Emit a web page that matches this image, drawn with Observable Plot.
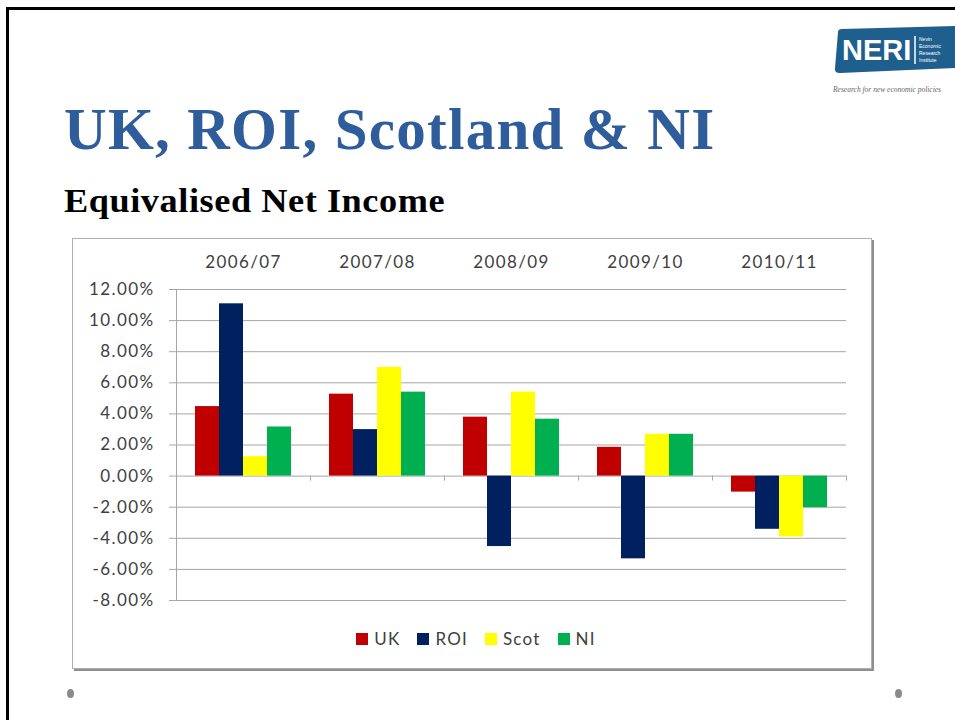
<!DOCTYPE html>
<html>
<head>
<meta charset="utf-8">
<script src="https://cdn.jsdelivr.net/npm/d3@7"></script>
<script src="https://cdn.jsdelivr.net/npm/@observablehq/plot@0.6"></script>
<style>
  html, body { margin: 0; padding: 0; background: #fff; }
  #page { position: relative; width: 955px; height: 720px; overflow: hidden; background: #fff; }
  .abs { position: absolute; }
  #title { left: 64px; top: 95px; font-family: "Liberation Serif", serif; font-weight: bold; font-size: 59px; color: #2F5C9B; white-space: nowrap; letter-spacing: 1.3px; }
  #subtitle { left: 64px; top: 183px; font-family: "Liberation Serif", serif; font-weight: bold; font-size: 33px; color: #000; white-space: nowrap; letter-spacing: 0.5px; transform: scaleX(1.10); transform-origin: left top; }
  #box { left: 72px; top: 238px; width: 798px; height: 429px; border: 1px solid #B0B0B0; box-shadow: 2px 2px 0 #8F8F8F; }
  #chart { left: 73px; top: 240px; }
  #legend { left: 72px; top: 628px; width: 808px; display: flex; justify-content: center; gap: 17px; font-family: Lato, "Open Sans", sans-serif; font-size: 17px; letter-spacing: 1.2px; color: #404040; }
  #legend .item { display: flex; align-items: center; gap: 6px; }
  #legend .sw { width: 12px; height: 12px; display: inline-block; }
  .dot { width: 7px; height: 9px; border-radius: 50%; background: #8A8A8A; }
</style>
</head>
<body>
<div id="page">
  <div class="abs" style="left:6px; top:7px; width:960px; height:3px; background:#000;"></div>
  <div class="abs" style="left:6px; top:7px; width:3px; height:720px; background:#000;"></div>

  <svg class="abs" style="left:830px; top:24px;" width="125" height="72" viewBox="0 0 125 72">
    <path d="M8,8 Q8,5 12,5 L125,2 L125,44 L10,49 Q4,49 5,44 Z" fill="#1F5F8E"/>
    <text x="12" y="36" font-family="Liberation Sans, sans-serif" font-weight="bold" font-size="29" fill="#fff">NERI</text>
    <line x1="85" y1="12" x2="85" y2="40" stroke="#fff" stroke-width="1.5"/>
    <text font-family="Liberation Sans, sans-serif" font-size="5" fill="#fff">
      <tspan x="89" y="17">Nevin</tspan>
      <tspan x="89" y="24">Economic</tspan>
      <tspan x="89" y="31">Research</tspan>
      <tspan x="89" y="38">Institute</tspan>
    </text>
    <text x="3" y="68" font-family="Liberation Serif, serif" font-style="italic" font-size="7.5" fill="#666">Research for new economic policies</text>
  </svg>

  <div id="title" class="abs">UK, ROI, Scotland &amp; NI</div>
  <div id="subtitle" class="abs">Equivalised Net Income</div>
  <div id="box" class="abs"></div>
  <div id="chart" class="abs"></div>
  <div id="legend" class="abs"></div>
  <div class="abs dot" style="left:67px; top:689px;"></div>
  <div class="abs dot" style="left:895px; top:689px;"></div>
</div>
<script>
const years = ["2006/07", "2007/08", "2008/09", "2009/10", "2010/11"];
const series = ["UK", "ROI", "Scot", "NI"];
const ukValues = [4.47, 5.27, 3.79, 1.85, -1.03];
const roiValues = [11.08, 2.99, -4.53, -5.32, -3.42];
const scotValues = [1.25, 6.99, 5.40, 2.69, -3.91];
const niValues = [3.16, 5.40, 3.66, 2.69, -2.03];
const seriesColors = ["#C00000", "#002060", "#FFFF00", "#00B050"];
const yTicks = [-8, -6, -4, -2, 0, 2, 4, 6, 8, 10, 12];

const valuesBySeries = [ukValues, roiValues, scotValues, niValues];
const data = years.flatMap((yr, i) =>
  series.map((s, j) => ({ year: yr, series: s, value: valuesBySeries[j][i] }))
);

const chart = Plot.plot({
  width: 800,
  height: 370,
  marginLeft: 101,
  marginRight: 25,
  marginTop: 49,
  marginBottom: 10,
  style: { fontFamily: "Lato, 'Open Sans', sans-serif", fontSize: "17px", letterSpacing: "1.4px", color: "#A6A6A6", background: "transparent" },
  fx: { domain: years, padding: 0, axis: "top", label: null, tickSize: 0, tickPadding: 22 },
  x: { domain: series, paddingInner: 0, paddingOuter: 0.79, axis: null },
  y: { domain: [-8, 12], ticks: yTicks, tickFormat: d => d.toFixed(2) + "%", tickSize: 7, tickPadding: 15, label: null },
  color: { domain: series, range: seriesColors },
  marks: [
    Plot.ruleY(yTicks, { stroke: "#A6A6A6", strokeWidth: 1 }),
    Plot.barY(data, { fx: "year", x: "series", y: "value", fill: "series" })
  ]
});

document.getElementById("chart").appendChild(chart);

const svg = d3.select(chart);
svg.selectAll("text").attr("fill", "#404040");
svg.selectAll("g[aria-label$='tick label']").attr("fill", "#404040");

// axis line and category boundary ticks, from the plot's own scales
const fxS = chart.scale("fx");
const yS = chart.scale("y");
const x0 = fxS.apply(years[0]);
const xEnd = fxS.apply(years[years.length - 1]) + fxS.bandwidth;
const g = svg.append("g").attr("stroke", "#A6A6A6").attr("stroke-width", 1);
g.append("line").attr("x1", x0 + 0.5).attr("x2", x0 + 0.5).attr("y1", yS.apply(12)).attr("y2", yS.apply(-8));
years.slice(1).map(yr => fxS.apply(yr)).concat([xEnd]).forEach(x => {
  g.append("line").attr("x1", x + 0.5).attr("x2", x + 0.5).attr("y1", yS.apply(0)).attr("y2", yS.apply(0) + 5);
});

// legend
const legend = d3.select("#legend");
series.forEach((s, i) => {
  const item = legend.append("div").attr("class", "item");
  item.append("span").attr("class", "sw").style("background", seriesColors[i]);
  item.append("span").text(s);
});
</script>
</body>
</html>
